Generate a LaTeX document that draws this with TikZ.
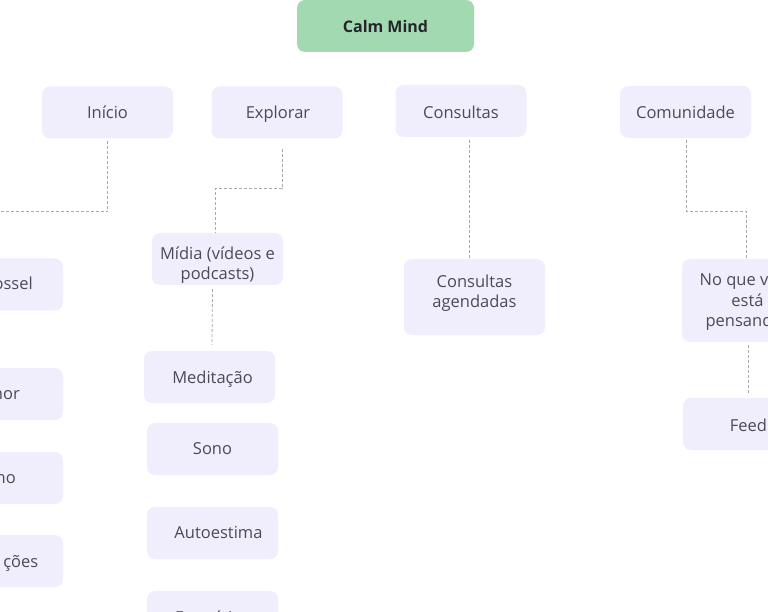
\documentclass[tikz,border=0pt]{standalone}
\usepackage{fontspec}
\setmainfont{Open Sans}
\definecolor{lav}{HTML}{F0EEFD}
\definecolor{grn}{HTML}{A3D9B1}
\definecolor{txt}{HTML}{4B4B55}
\definecolor{dark}{HTML}{24262B}
\definecolor{ln}{HTML}{A8A8A8}
\newcommand\dnby[2]{\raisebox{-#1}[\height][\depth]{#2}}
\newcommand\mlines[1]{\begin{tabular}{@{}c@{}}#1\end{tabular}}
\begin{document}
\begin{tikzpicture}[x=1pt,y=-1pt,
 box/.style={fill=lav, rounded corners=8pt, minimum width=131pt, minimum height=52pt, inner sep=0pt, text=txt, font=\fontsize{16.5}{20}\selectfont, align=center},
 lbl/.style={inner sep=0pt, text=txt, font=\fontsize{16.5}{20}\selectfont},
 conn/.style={draw=ln, dash pattern=on 3pt off 2pt, line width=0.8pt}]
\useasboundingbox (0,0) rectangle (768,612);
\clip (0,0) rectangle (768,612);
% root
\node[box, fill=grn, minimum width=177pt, text=dark, font=\fontsize{16}{19}\selectfont\bfseries] (root) at (385.5,26) {\dnby{1pt}{Calm Mind}};
% top level
\node[box] (ini) at (107.5,112.5) {Início};
\node[box] (exp) at (277,112.5) {\dnby{2pt}{\hspace*{2pt}Explorar}};
\node[box] (con) at (461,111) {\dnby{1pt}{Consultas}};
\node[box] (com) at (685.5,112) {Comunidade};
% left column (cut at edge)
\node[box] (c1) at (-2.5,284.5) {};
\node[lbl, anchor=base east] (c1t) at (33,290) {ossel};
\node[box] (c2) at (-2.5,394) {};
\node[lbl, anchor=base east] (c2t) at (20,399.5) {nor};
\node[box] (c3) at (-2.5,478) {};
\node[lbl, anchor=base east] (c3t) at (16,483.5) {no};
\node[box] (c4) at (-2.5,561) {};
\node[lbl, anchor=base east] (c4t) at (38.5,567) {ções};
% explorar column
\node[box] (mid) at (217.5,259) {\dnby{6.5pt}{\mlines{Mídia (vídeos e\\podcasts)}}};
\node[box] (med) at (209.5,377) {\dnby{2pt}{\hspace*{6pt}Meditação}};
\node[box] (son) at (212.5,449) {Sono};
\node[box] (aut) at (212.5,533) {\hspace*{12pt}Autoestima};
\node[box] (exe) at (212.5,617) {Exercícios};
% consultas
\node[box, minimum width=141pt, minimum height=76pt] (age) at (474.5,297) {\dnby{-3.5pt}{\mlines{Consultas\\agendadas}}};
% comunidade
\node[box, minimum height=83pt] (nqv) at (747.5,300.5) {\dnby{1.5pt}{\mlines{No que você\\está\\pensando?}}};
\node[box] (fee) at (748.5,424) {\dnby{1pt}{Feed}};
% connectors
\draw[conn] ([yshift=-2pt]ini.south) -- ++(0,71) -| ([xshift=-20pt]c1.north);
\draw[conn] ([xshift=5pt,yshift=-10pt]exp.south) -- ++(0,40) -| ([xshift=-2pt]mid.north);
\draw[conn] ([xshift=-5pt,yshift=-4pt]mid.south) -- ([xshift=2.5pt,yshift=6pt]med.north);
\draw[conn] ([xshift=8pt,yshift=-3pt]con.south) -- ([xshift=-5.5pt]age.north);
\draw[conn] ([xshift=0.5pt,yshift=-2pt]com.south) -- ++(0,71) -| ([xshift=-1.5pt]nqv.north);
\draw[conn] ([xshift=0.5pt,yshift=-3pt]nqv.south) -- ([xshift=-0.5pt,yshift=4pt]fee.north);
\end{tikzpicture}
\end{document}
